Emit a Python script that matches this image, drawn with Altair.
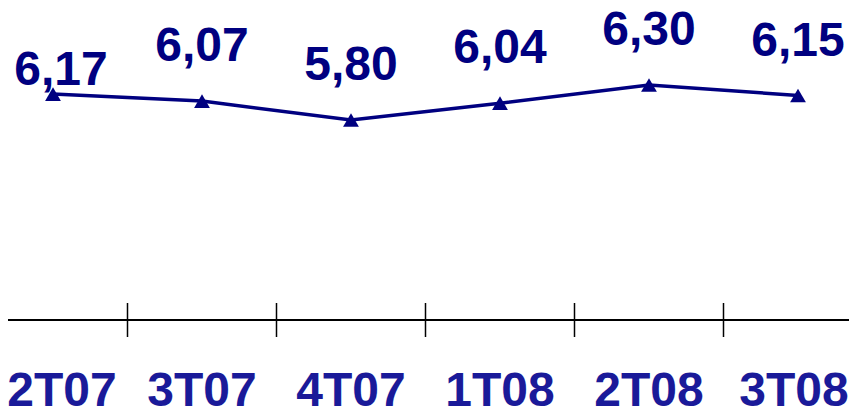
import altair as alt
import pandas as pd

categories = ["2T07", "3T07", "4T07", "1T08", "2T08", "3T08"]
values = [6.17, 6.07, 5.80, 6.04, 6.30, 6.15]

df = pd.DataFrame({"idx": list(range(len(categories))), "cat": categories, "v": values})
ticks_df = pd.DataFrame({"t": [i + 0.5 for i in range(len(categories) - 1)]})

NAVY = "#000080"
LABEL_BLUE = "#1a1a99"
W, H = 841, 399
xs = alt.Scale(domain=[-0.302, 5.3423], nice=False, zero=False)
ys = alt.Scale(domain=[1.7, 7.4], nice=False, zero=False)

base = alt.Chart(df)
x = alt.X("idx:Q", scale=xs, axis=None)
y = alt.Y("v:Q", scale=ys, axis=None)

line = base.mark_line(color=NAVY, strokeWidth=3.5).encode(x=x, y=y)
pts = base.mark_point(shape="triangle-up", filled=True, color=NAVY, size=250, opacity=1).encode(x=x, y=y)

lab = base.transform_calculate(
    lbl="replace(format(datum.v, '.2f'), '.', ',')"
)
text_style = dict(font="Liberation Sans", fontWeight="bold", fontSize=48, baseline="alphabetic")
labels_rest = lab.transform_filter("datum.idx > 0").mark_text(
    color=NAVY, dy=-40, **text_style
).encode(x=x, y=y, text="lbl:N")
labels_first = lab.transform_filter("datum.idx == 0").mark_text(
    color=NAVY, dy=-9, dx=8, **text_style
).encode(x=x, y=y, text="lbl:N")

axis_line = alt.Chart(df).mark_rule(color="#000000", strokeWidth=1.5).encode(
    x=alt.value(0), x2=alt.value(W), y=alt.value(312)
)
ticks = alt.Chart(ticks_df).mark_rule(color="#000000", strokeWidth=1.5).encode(
    x=alt.X("t:Q", scale=xs, axis=None), y=alt.value(295), y2=alt.value(329)
)
cat_mid = base.transform_filter("datum.idx > 0 && datum.idx < 5").mark_text(
    color=LABEL_BLUE, **text_style
).encode(x=x, y=alt.value(398), text="cat:N")
cat_first = base.transform_filter("datum.idx == 0").mark_text(
    color=LABEL_BLUE, dx=9, **text_style
).encode(x=x, y=alt.value(398), text="cat:N")
cat_last = base.transform_filter("datum.idx == 5").mark_text(
    color=LABEL_BLUE, dx=-4, **text_style
).encode(x=x, y=alt.value(398), text="cat:N")

chart = alt.layer(
    axis_line, ticks, line, pts, labels_rest, labels_first, cat_mid, cat_first, cat_last
).properties(
    width=W, height=H, padding=0, autosize=alt.AutoSizeParams(type="none"),
    background="white"
).configure_view(stroke=None)

chart.save("out.html", embed_options={"renderer": "svg", "actions": False})
